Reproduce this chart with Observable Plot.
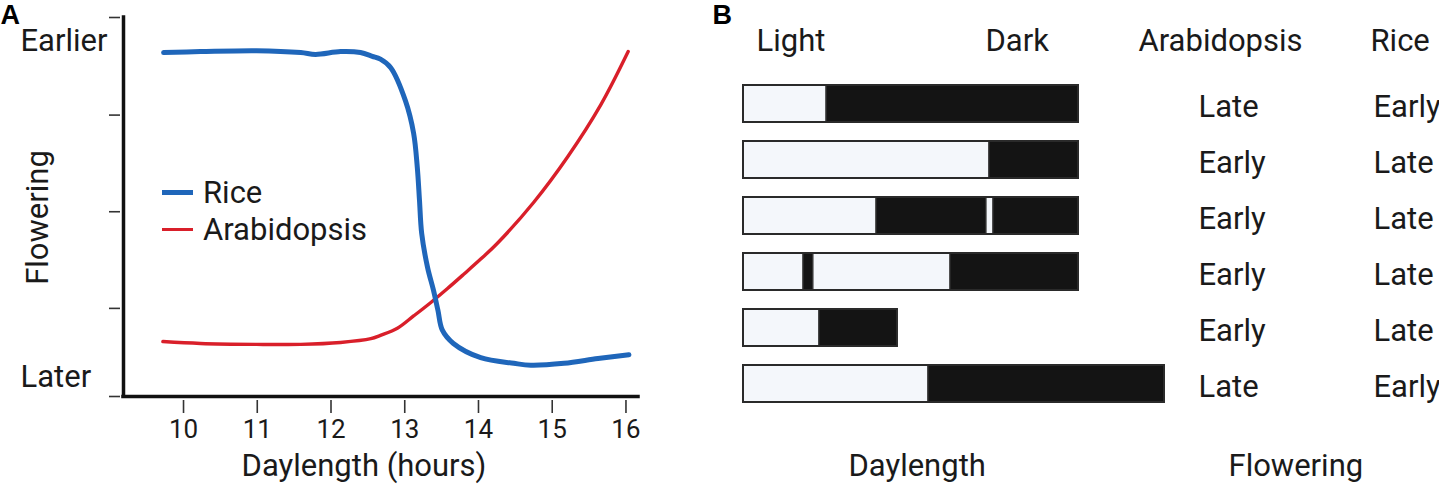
<!DOCTYPE html>
<html>
<head>
<meta charset="utf-8">
<script src="https://cdn.jsdelivr.net/npm/d3@7"></script>
<script src="https://cdn.jsdelivr.net/npm/@observablehq/plot@0.6"></script>
<style>
  html, body { margin: 0; padding: 0; background: #fff; }
  #wrap { position: relative; width: 1439px; height: 485px; font-family: Roboto, sans-serif; color: #1a1a1a; }
  #panelA { position: absolute; left: 0; top: 0; }
  #panelB { position: absolute; left: 680px; top: 0; }
  #legend { position: absolute; left: 162px; top: 174px; font-size: 31px; line-height: 37px; }
  #legend .row { display: flex; align-items: center; height: 37px; }
  #legend .sw { width: 31px; margin-right: 10px; }
</style>
</head>
<body>
<div id="wrap">
  <div id="panelA"></div>
  <div id="panelB"></div>
  <div id="legend"></div>
</div>
<script>
// ---------- Panel A data ----------
const seriesNames = ["Rice", "Arabidopsis"];
const seriesColors = ["#1f66ba", "#d91f2a"];
const riceHours = [9.73, 10.23, 10.99, 11.59, 11.79, 12.13, 12.40, 12.56, 12.67, 12.81, 13.01, 13.12, 13.17, 13.20, 13.23, 13.31, 13.39, 13.45, 13.51, 13.66, 14.03, 14.48, 14.71, 15.16, 15.62, 16.04];
const riceFlowering = [3.63, 3.64, 3.65, 3.63, 3.61, 3.64, 3.63, 3.59, 3.56, 3.47, 3.12, 2.78, 2.42, 2.07, 1.72, 1.36, 1.12, 0.91, 0.70, 0.56, 0.41, 0.35, 0.33, 0.35, 0.40, 0.44];
const arabHours = [9.72, 10.23, 10.99, 11.59, 12.13, 12.54, 12.67, 12.90, 13.12, 13.35, 13.58, 13.80, 14.03, 14.26, 14.75, 15.21, 15.66, 16.03];
const arabFlowering = [0.58, 0.56, 0.55, 0.55, 0.57, 0.61, 0.645, 0.72, 0.85, 0.99, 1.14, 1.29, 1.45, 1.62, 2.05, 2.53, 3.08, 3.64];
const xTicks = [10, 11, 12, 13, 14, 15, 16];
const yTicks = [0, 0.93, 1.95, 2.97, 4];
const xDomain = [9.186, 16.17];
const yDomain = [0, 4];
const yEndLabels = ["Earlier", "Later"];
const yEndValues = [3.75, 0.20];

// ---------- Panel B data ----------
const rows = [1, 2, 3, 4, 5, 6];
const segRow   = [1, 1, 2, 2, 3, 3, 3, 3, 4, 4, 4, 4, 5, 5, 6, 6];
const segPhase = ["Light", "Dark", "Light", "Dark", "Light", "Dark", "Light", "Dark", "Light", "Dark", "Light", "Dark", "Light", "Dark", "Light", "Dark"];
const segStart = [0, 5.95, 0, 17.62, 0, 9.53, 17.41, 17.91, 0, 4.30, 5.01, 14.83, 0, 5.44, 0, 13.25];
const segEnd   = [5.95, 24, 17.62, 24, 9.53, 17.41, 17.91, 24, 4.30, 5.01, 14.83, 24, 5.44, 11.03, 13.25, 30.16];
const arabResponse = ["Late", "Early", "Early", "Early", "Early", "Late"];
const riceResponse = ["Early", "Late", "Late", "Late", "Late", "Early"];
const bHeaders = ["Light", "Dark", "Arabidopsis", "Rice"];

// ---------- Panel A ----------
const lineData = [
  ...riceHours.map((h, i) => ({series: "Rice", hours: h, flowering: riceFlowering[i]})),
  ...arabHours.map((h, i) => ({series: "Arabidopsis", hours: h, flowering: arabFlowering[i]}))
];
const textColor = "#1a1a1a";
const big = 31;
const boldFont = "Arial, 'Liberation Sans', sans-serif";

const plotA = Plot.plot({
  width: 680, height: 485,
  marginLeft: 123, marginRight: 42, marginTop: 17, marginBottom: 89,
  x: {domain: xDomain},
  y: {domain: yDomain},
  color: {domain: seriesNames, range: seriesColors},
  style: {fontFamily: "Roboto, sans-serif", color: textColor, background: "transparent", overflow: "visible"},
  marks: [
    Plot.axisX({ticks: xTicks, tickFormat: d => String(d), tickSize: 13, tickPadding: 6, dy: 4, fontSize: 26, label: null, stroke: "#333", strokeWidth: 1.6, fill: textColor}),
    Plot.axisY({ticks: yTicks, tickSize: 11, dx: -3, tickFormat: () => "", label: null, stroke: "#333", strokeWidth: 1.6}),
    Plot.ruleY([yDomain[0]], {stroke: "#111", strokeWidth: 3.5, strokeLinecap: "square"}),
    Plot.ruleX([xDomain[0]], {stroke: "#111", strokeWidth: 3.5, strokeLinecap: "square"}),
    Plot.line(lineData.filter(d => d.series === "Arabidopsis"), {x: "hours", y: "flowering", stroke: "series", strokeWidth: 3.4, curve: "catmull-rom"}),
    Plot.line(lineData.filter(d => d.series === "Rice"), {x: "hours", y: "flowering", stroke: "series", strokeWidth: 5, curve: "catmull-rom"}),
    Plot.text(yEndLabels, {text: d => d, y: (d, i) => yEndValues[i], frameAnchor: "left", textAnchor: "start", lineAnchor: "middle", dx: -103, fontSize: big, fill: textColor}),
    Plot.text(["Flowering"], {text: d => d, frameAnchor: "left", textAnchor: "middle", lineAnchor: "middle", rotate: -90, dx: -85, dy: 10.5, fontSize: big, fill: textColor}),
    Plot.text(["Daylength (hours)"], {text: d => d, frameAnchor: "bottom", textAnchor: "middle", lineAnchor: "middle", dx: -17, dy: 70, fontSize: big, fill: textColor}),
    Plot.text(["A"], {text: d => d, frameAnchor: "top-left", textAnchor: "start", lineAnchor: "middle", dx: -123, dy: -2, fontSize: 27, fontWeight: "bold", fontFamily: boldFont, fill: "#000"})
  ]
});
document.getElementById("panelA").appendChild(plotA);

// legend
const legend = document.getElementById("legend");
seriesNames.forEach((name, i) => {
  const row = document.createElement("div");
  row.className = "row";
  const sw = document.createElement("span");
  sw.className = "sw";
  sw.style.height = (i === 0 ? 5 : 3.5) + "px";
  sw.style.background = seriesColors[i];
  const t = document.createElement("span");
  t.textContent = name;
  row.appendChild(sw); row.appendChild(t);
  legend.appendChild(row);
});

// ---------- Panel B ----------
const segs = segRow.map((r, i) => ({row: r, phase: segPhase[i], start: segStart[i], end: segEnd[i]}));
const totals = rows.map(r => ({row: r, end: d3.max(segs.filter(s => s.row === r), s => s.end)}));
const headerDx = [13, 242, 395, 627];

const plotB = Plot.plot({
  width: 759, height: 485,
  marginLeft: 63, marginRight: 361, marginTop: 75.5, marginBottom: 73,
  x: {domain: [0, 24], axis: null},
  y: {domain: rows, axis: null, paddingInner: 0.34, paddingOuter: 0.17},
  color: {domain: ["Light", "Dark"], range: ["#f4f7fb", "#141414"]},
  style: {fontFamily: "Roboto, sans-serif", color: textColor, background: "transparent", overflow: "visible"},
  marks: [
    Plot.barX(segs, {y: "row", x1: "start", x2: "end", fill: "phase", stroke: "#333", strokeWidth: 1.2}),
    Plot.barX(totals, {y: "row", x1: 0, x2: "end", fill: "none", stroke: "#2a2a2a", strokeWidth: 2}),
    ...bHeaders.map((h, i) => Plot.text([h], {text: d => d, frameAnchor: "top-left", textAnchor: "start", lineAnchor: "middle", dx: headerDx[i], dy: -34.5, fontSize: big, fill: textColor})),
    Plot.text(rows, {y: d => d, text: (d, i) => arabResponse[i], frameAnchor: "left", textAnchor: "start", lineAnchor: "middle", dx: 455, dy: 3.5, fontSize: big, fill: textColor}),
    Plot.text(rows, {y: d => d, text: (d, i) => riceResponse[i], frameAnchor: "left", textAnchor: "start", lineAnchor: "middle", dx: 630, dy: 3.5, fontSize: big, fill: textColor}),
    Plot.text(["Daylength"], {text: d => d, frameAnchor: "bottom-left", textAnchor: "start", lineAnchor: "middle", dx: 105, dy: 54, fontSize: big, fill: textColor}),
    Plot.text(["Flowering"], {text: d => d, frameAnchor: "bottom-left", textAnchor: "start", lineAnchor: "middle", dx: 485, dy: 54, fontSize: big, fill: textColor}),
    Plot.text(["B"], {text: d => d, frameAnchor: "top-left", textAnchor: "start", lineAnchor: "middle", dx: -31, dy: -60.5, fontSize: 27, fontWeight: "bold", fontFamily: boldFont, fill: "#000"})
  ]
});
document.getElementById("panelB").appendChild(plotB);
</script>
</body>
</html>
